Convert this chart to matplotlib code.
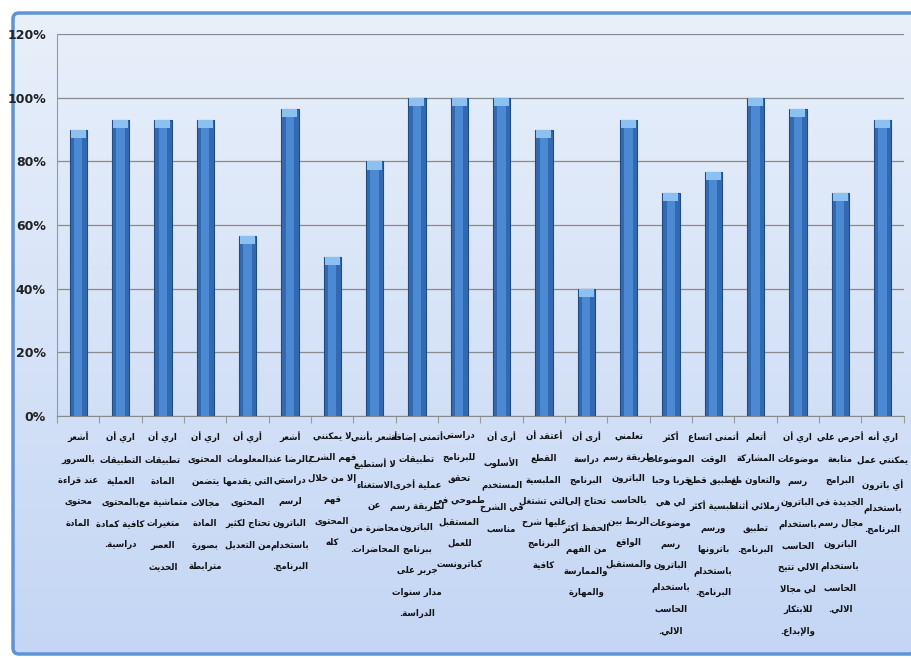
import numpy as np
import matplotlib
matplotlib.use("Agg")
import matplotlib.pyplot as plt
from matplotlib.patches import FancyBboxPatch

# values (percent)
values = [90, 93, 93, 93, 56.7, 96.5, 50, 80, 100, 100,
          100, 90, 40, 93, 70, 76.7, 100, 96.5, 70, 93]

labels = [
    "أشعر\nبالسرور\nعند قراءة\nمحتوى\nالمادة",
    "اري أن\nالتطبيقات\nالعملية\nبالمحتوى\nكافية كمادة\nدراسية.",
    "اري أن\nتطبيقات\nالمادة\nمتماشية مع\nمتغيرات\nالعصر\nالحديث",
    "اري أن\nالمحتوى\nيتضمن\nمجالات\nالمادة\nبصورة\nمترابطة",
    "أري أن\nالمعلومات\nالتي يقدمها\nالمحتوى\nتحتاج لكثير\nمن التعديل",
    "أشعر\nبالرضا عند\nدراستي\nلرسم\nالباترون\nباستخدام\nالبرنامج.",
    "لا يمكنني\nفهم الشرح\nإلا من خلال\nفهم\nالمحتوى\nكله",
    "أشعر بأنني\nلا أستطيع\nالاستغناء\nعن\nمحاضرة من\nالمحاضرات.",
    "أتمنى إضافة\nتطبيقات\nعملية أخرى\nلطريقة رسم\nالباترون\nببرنامج\nجربر على\nمدار سنوات\nالدراسة.",
    "دراستي\nللبرنامج\nتحقق\nطموحي في\nالمستقبل\nللعمل\nكباترونست",
    "أرى أن\nالأسلوب\nالمستخدم\nفي الشرح\nمناسب",
    "أعتقد أن\nالقطع\nالملبسية\nالتي تشتغل\nعليها شرح\nالبرنامج\nكافية",
    "أرى أن\nدراسة\nالبرنامج\nتحتاج إلى\nالحفظ أكثر\nمن الفهم\nوالممارسة\nوالمهارة",
    "تعلمني\nطريقة رسم\nالباترون\nبالحاسب\nالربط بين\nالواقع\nوالمستقبل",
    "أكثر\nالموضوعات\nقربا وحبا\nلي هي\nموضوعات\nرسم\nالباترون\nباستخدام\nالحاسب\nالالي.",
    "أتمنى اتساع\nالوقت\nلتطبيق قطع\nملبسية أكثر\nورسم\nباترونها\nباستخدام\nالبرنامج.",
    "أتعلم\nالمشاركة\nوالتعاون مع\nزملائي أثناء\nتطبيق\nالبرنامج.",
    "اري أن\nموضوعات\nرسم\nالباترون\nباستخدام\nالحاسب\nالالي تتيح\nلي مجالا\nللابتكار\nوالإبداع.",
    "أحرص علي\nمتابعة\nالبرامج\nالجديدة في\nمجال رسم\nالباترون\nباستخدام\nالحاسب\nالالي.",
    "اري أنه\nيمكنني عمل\nأي باترون\nباستخدام\nالبرنامج.",
]

yticks = [0, 20, 40, 60, 80, 100, 120]

# ---- small arabic shaper (matplotlib draws glyphs left to right, no shaping)
FORMS = {0x0621: (0xFE80, 1), 0x0622: (0xFE81, 2), 0x0623: (0xFE83, 2), 0x0624: (0xFE85, 2),
         0x0625: (0xFE87, 2), 0x0626: (0xFE89, 4), 0x0627: (0xFE8D, 2), 0x0628: (0xFE8F, 4),
         0x0629: (0xFE93, 2), 0x062A: (0xFE95, 4), 0x062B: (0xFE99, 4), 0x062C: (0xFE9D, 4),
         0x062D: (0xFEA1, 4), 0x062E: (0xFEA5, 4), 0x062F: (0xFEA9, 2), 0x0630: (0xFEAB, 2),
         0x0631: (0xFEAD, 2), 0x0632: (0xFEAF, 2), 0x0633: (0xFEB1, 4), 0x0634: (0xFEB5, 4),
         0x0635: (0xFEB9, 4), 0x0636: (0xFEBD, 4), 0x0637: (0xFEC1, 4), 0x0638: (0xFEC5, 4),
         0x0639: (0xFEC9, 4), 0x063A: (0xFECD, 4), 0x0641: (0xFED1, 4), 0x0642: (0xFED5, 4),
         0x0643: (0xFED9, 4), 0x0644: (0xFEDD, 4), 0x0645: (0xFEE1, 4), 0x0646: (0xFEE5, 4),
         0x0647: (0xFEE9, 4), 0x0648: (0xFEED, 2), 0x0649: (0xFEEF, 2), 0x064A: (0xFEF1, 4)}
LAMALEF = {0x0622: 0xFEF5, 0x0623: 0xFEF7, 0x0625: 0xFEF9, 0x0627: 0xFEFB}


def shape_line(text):
    toks = []
    i = 0
    while i < len(text):
        c = text[i]
        if c == "ل" and i + 1 < len(text) and ord(text[i + 1]) in LAMALEF:
            toks.append(("LA", LAMALEF[ord(text[i + 1])]))
            i += 2
        else:
            toks.append(("C", c))
            i += 1

    def dual(t):
        return t[0] == "C" and ord(t[1]) in FORMS and FORMS[ord(t[1])][1] == 4

    def joinable(t):
        return t[0] == "LA" or (ord(t[1]) in FORMS and FORMS[ord(t[1])][1] > 1)

    out = []
    for k, t in enumerate(toks):
        prev = toks[k - 1] if k > 0 else None
        nxt = toks[k + 1] if k + 1 < len(toks) else None
        cp = prev is not None and dual(prev) and joinable(t)
        cn = dual(t) and nxt is not None and joinable(nxt)
        if t[0] == "LA":
            out.append(chr(t[1] + (1 if cp else 0)))
        elif ord(t[1]) in FORMS:
            start, n = FORMS[ord(t[1])]
            if n == 1:
                out.append(chr(start))
            elif n == 2:
                out.append(chr(start + (1 if cp else 0)))
            else:
                idx = 3 if (cp and cn) else 1 if cp else 2 if cn else 0
                out.append(chr(start + idx))
        else:
            out.append(t[1])
    # visual order: right-to-left
    return "".join(out)[::-1]


def shape(text):
    return "\n".join(shape_line(l) for l in text.split("\n"))


fig = plt.figure(figsize=(9.11, 6.58), dpi=100)

# background panel with gradient and blue frame
bg = fig.add_axes([0, 0, 1, 1], zorder=-10)
bg.set_xlim(0, 911)
bg.set_ylim(658, 0)
bg.axis("off")
grad = np.linspace(0, 1, 256).reshape(-1, 1)
top_c = np.array([0.91, 0.94, 0.98])
bot_c = np.array([0.77, 0.84, 0.96])
img = top_c + (bot_c - top_c) * grad
img = np.repeat(img[:, None, :], 2, axis=1).reshape(256, 2, 3)
im = bg.imshow(img, extent=[12, 913, 654, 13], aspect="auto", interpolation="bilinear")
frame = FancyBboxPatch((13, 13), 905, 641, boxstyle="round,pad=0,rounding_size=6",
                       facecolor="none", edgecolor="#5f93d3", linewidth=2.5)
bg.add_patch(frame)
im.set_clip_path(frame)

ax = fig.add_axes([0.0626, 0.3678, 0.9294, 0.5805])
ax.patch.set_alpha(0)

x = np.arange(len(values))
ax.bar(x, values, width=0.41, color="#3369b0", edgecolor="#214d85", linewidth=0.8, zorder=3)
ax.bar(x, values, width=0.2, color="#4b8ad3", linewidth=0, zorder=4)
cap = 2.6
ax.bar(x, [cap] * len(values), bottom=[v - cap for v in values], width=0.35,
       color="#8cc0f0", linewidth=0, zorder=5)

ax.set_xlim(-0.5, len(values) - 0.5)
ax.set_ylim(0, 120)
ax.set_yticks(yticks)
ax.set_yticklabels([f"{t}%" for t in yticks])
for lab in ax.get_yticklabels():
    lab.set_family(["Liberation Sans Narrow", "DejaVu Sans"])
    lab.set_fontweight("bold")
    lab.set_fontsize(9)
    lab.set_color("#222222")
ax.tick_params(axis="y", length=0, pad=8)
ax.grid(axis="y", color="#8a8a8a", linewidth=0.9, zorder=0)
for s in ["top", "right"]:
    ax.spines[s].set_visible(False)
ax.spines["left"].set_color("#9a9a9a")
ax.spines["bottom"].set_color("#8a8a8a")
ax.set_xticks(np.arange(len(values) + 1) - 0.5)
ax.set_xticklabels([])
ax.tick_params(axis="x", length=5, color="#9a9a9a", direction="out")

for xi, lab in zip(x, labels):
    ax.text(xi, -0.04, shape(lab), transform=ax.get_xaxis_transform(),
            ha="center", va="top", multialignment="center",
            family=["DejaVu Sans"], fontweight="bold", fontstretch="condensed",
            fontsize=6.8, linespacing=2.75, color="#111111")

fig.savefig("out.png", dpi=100)
